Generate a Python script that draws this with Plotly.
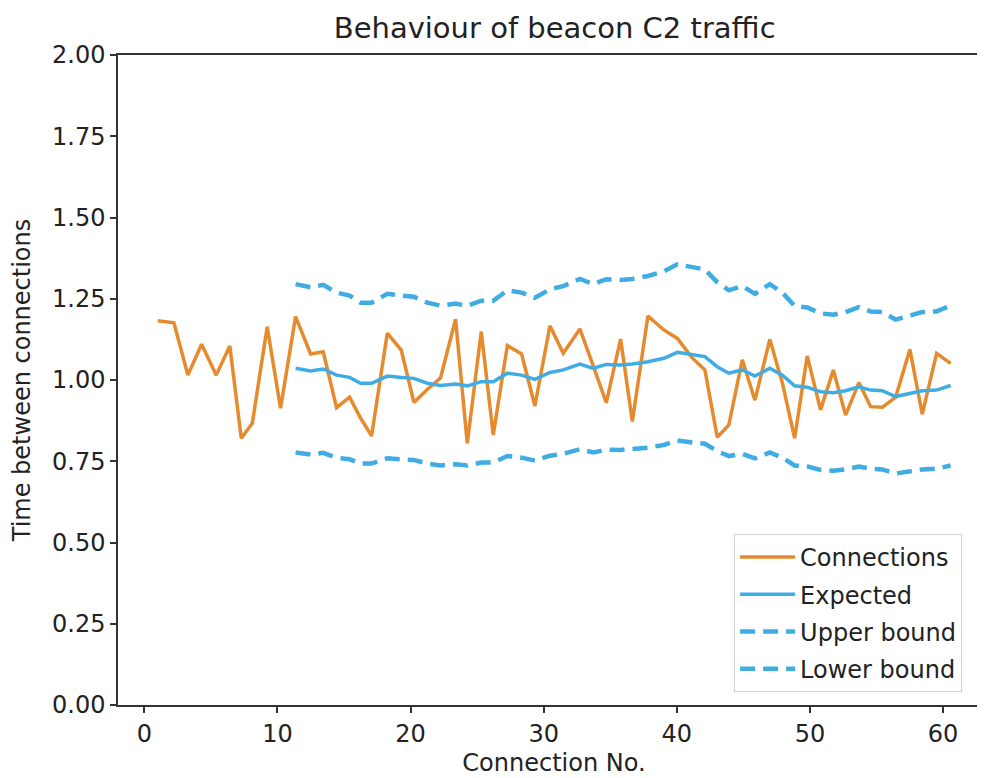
import plotly.graph_objects as go

# ---- data ----
conn_x = [1.01, 2.22, 3.27, 4.30, 5.40, 6.42, 7.28, 8.11, 9.23, 10.23,
          11.36, 12.49, 13.44, 14.44, 15.42, 16.24, 17.07, 18.25, 19.30, 20.25,
          21.25, 22.25, 23.38, 24.26, 25.31, 26.21, 27.27, 28.34, 29.34, 30.47,
          31.47, 32.72, 33.73, 34.70, 35.78, 36.66, 37.83, 39.03, 40.04, 41.16,
          42.11, 43.04, 43.91, 44.92, 45.87, 46.99, 47.93, 48.85, 49.80, 50.80,
          51.76, 52.68, 53.68, 54.56, 55.44, 56.44, 57.51, 58.44, 59.52, 60.57]
connections = [1.182, 1.176, 1.015, 1.110, 1.015, 1.105, 0.821, 0.867, 1.164, 0.913,
               1.195, 1.080, 1.087, 0.915, 0.947, 0.883, 0.828, 1.144, 1.092, 0.931,
               0.971, 1.006, 1.187, 0.805, 1.149, 0.831, 1.106, 1.080, 0.920, 1.167,
               1.082, 1.157, 1.043, 0.930, 1.126, 0.872, 1.197, 1.154, 1.128, 1.068,
               1.031, 0.824, 0.862, 1.062, 0.938, 1.125, 0.991, 0.821, 1.074, 0.908,
               1.031, 0.892, 0.992, 0.918, 0.916, 0.947, 1.094, 0.895, 1.082, 1.051]

exp_x = [11.36, 12.49, 13.44, 14.44, 15.42, 16.24, 17.07, 18.25, 19.30, 20.25,
         21.25, 22.25, 23.38, 24.26, 25.31, 26.21, 27.27, 28.34, 29.34, 30.47,
         31.47, 32.72, 33.73, 34.70, 35.78, 36.66, 37.83, 39.03, 40.04, 41.16,
         42.11, 43.04, 43.91, 44.92, 45.87, 46.99, 47.93, 48.85, 49.80, 50.80,
         51.76, 52.68, 53.68, 54.56, 55.44, 56.44, 57.51, 58.44, 59.52, 60.57]
expected = [1.036, 1.028, 1.034, 1.015, 1.008, 0.990, 0.990, 1.012, 1.008, 1.005,
            0.990, 0.983, 0.988, 0.982, 0.995, 0.995, 1.021, 1.015, 1.002, 1.023,
            1.031, 1.049, 1.036, 1.048, 1.046, 1.049, 1.056, 1.067, 1.085, 1.077,
            1.072, 1.041, 1.021, 1.031, 1.012, 1.036, 1.015, 0.982, 0.978, 0.964,
            0.961, 0.967, 0.979, 0.969, 0.967, 0.949, 0.959, 0.967, 0.969, 0.983]
upper = [1.295, 1.285, 1.293, 1.269, 1.260, 1.238, 1.238, 1.265, 1.260, 1.256,
         1.238, 1.229, 1.235, 1.228, 1.244, 1.244, 1.276, 1.269, 1.253, 1.279,
         1.289, 1.311, 1.295, 1.310, 1.308, 1.311, 1.320, 1.334, 1.356, 1.346,
         1.340, 1.301, 1.276, 1.289, 1.265, 1.295, 1.269, 1.228, 1.223, 1.205,
         1.201, 1.209, 1.224, 1.211, 1.209, 1.186, 1.199, 1.209, 1.211, 1.229]
lower = [0.777, 0.771, 0.776, 0.761, 0.756, 0.743, 0.743, 0.759, 0.756, 0.754,
         0.743, 0.737, 0.741, 0.737, 0.746, 0.746, 0.766, 0.761, 0.752, 0.767,
         0.773, 0.787, 0.777, 0.786, 0.785, 0.787, 0.792, 0.800, 0.814, 0.808,
         0.804, 0.781, 0.766, 0.773, 0.759, 0.777, 0.761, 0.737, 0.734, 0.723,
         0.721, 0.725, 0.734, 0.727, 0.725, 0.712, 0.719, 0.725, 0.727, 0.737]

x_ticks = [0, 10, 20, 30, 40, 50, 60]
y_ticks = [0.0, 0.25, 0.5, 0.75, 1.0, 1.25, 1.5, 1.75, 2.0]
y_tick_text = ["0.00", "0.25", "0.50", "0.75", "1.00", "1.25", "1.50", "1.75", "2.00"]

ORANGE = "#E68A2E"
BLUE = "#3FADE4"
FONT = "DejaVu Sans"
TXT = "#222222"

fig = go.Figure()
fig.add_trace(go.Scatter(x=conn_x, y=connections, mode="lines", name="Connections",
                         line=dict(color=ORANGE, width=3.5), legendgroup="a"))
fig.add_trace(go.Scatter(x=exp_x, y=expected, mode="lines", name="Expected",
                         line=dict(color=BLUE, width=3.5), legendgroup="b"))
fig.add_trace(go.Scatter(x=exp_x, y=upper, mode="lines", name="Upper bound",
                         line=dict(color=BLUE, width=4.5, dash="15px,8px"), legendgroup="c"))
fig.add_trace(go.Scatter(x=exp_x, y=lower, mode="lines", name="Lower bound",
                         line=dict(color=BLUE, width=4.5, dash="15px,8px"), legendgroup="d"))

axis_common = dict(showgrid=False, zeroline=False, showline=True, linecolor="#333333",
                   linewidth=1.5, ticks="outside", ticklen=6, tickwidth=1.5,
                   tickcolor="#333333", automargin=False,
                   tickfont=dict(family=FONT, size=24, color=TXT))

fig.update_layout(
    width=985, height=778,
    margin=dict(l=110, r=3, t=47, b=81),
    paper_bgcolor="white", plot_bgcolor="white",
    title=dict(text="Behaviour of beacon C2 traffic", x=0.555, xref="container",
               xanchor="center", y=0.974, yref="container", yanchor="middle",
               automargin=False,
               font=dict(family=FONT, size=29, color=TXT)),
    xaxis=dict(range=[-1.98, 63.53], tickvals=x_ticks, mirror=True,
               title=dict(text="Connection No.", standoff=8,
                          font=dict(family=FONT, size=24, color=TXT)),
               **axis_common),
    yaxis=dict(range=[0, 2], tickvals=y_ticks, ticktext=y_tick_text,
               title=dict(text="Time between connections", standoff=16,
                          font=dict(family=FONT, size=24, color=TXT)),
               **axis_common),
    legend=dict(x=0.968, y=0.02, xanchor="right", yanchor="bottom",
                bgcolor="rgba(255,255,255,0.9)", bordercolor="#D0D0D0", borderwidth=1,
                font=dict(family=FONT, size=24, color=TXT),
                itemwidth=55,
                traceorder="grouped", tracegroupgap=3),
    showlegend=True,
)

fig.write_html("out.html")
